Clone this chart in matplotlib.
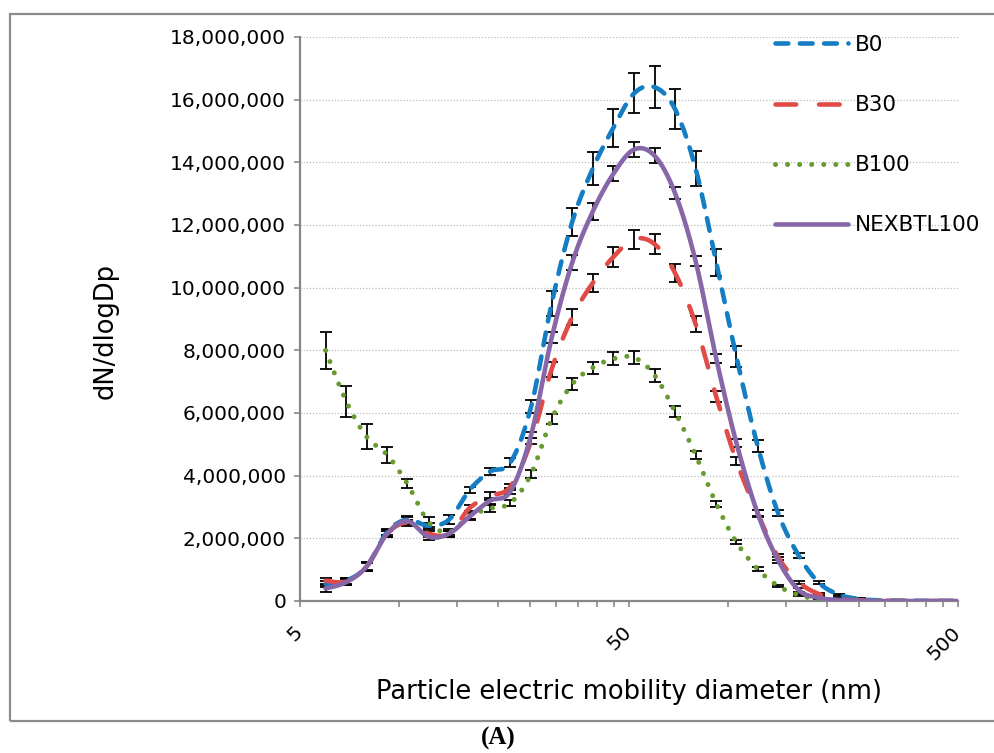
import numpy as np
import matplotlib
matplotlib.use("Agg")
import matplotlib.pyplot as plt
from matplotlib.ticker import FixedLocator, FuncFormatter, NullFormatter
from matplotlib.patches import Rectangle

# ---------------- data (values in particles) ----------------
diameter_nm = [5.98, 6.91, 7.97, 9.21, 10.6, 12.3, 14.2, 16.4, 18.9, 21.8,
               25.2, 29.1, 33.6, 38.8, 44.8, 51.8, 59.8, 69.0, 79.7, 92.1,
               106, 123, 142, 164, 189, 218, 252, 291, 336, 388, 448, 518]

b0 = [0.55, 0.65, 1.1, 2.2, 2.6, 2.4, 2.6, 3.55, 4.13, 4.42,
      6.2, 9.5, 12.1, 13.8, 15.1, 16.2, 16.4, 15.7, 13.8, 10.8,
      7.8, 4.95, 2.8, 1.45, 0.58, 0.2, 0.06, 0.02, 0.01, 0.005, 0.0, 0.0]
b0_err = [0.1, 0.1, 0.12, 0.1, 0.1, 0.1, 0.15, 0.1, 0.12, 0.15,
          0.2, 0.4, 0.45, 0.53, 0.6, 0.64, 0.67, 0.64, 0.55, 0.44,
          0.33, 0.2, 0.1, 0.08, 0.05, 0.03, 0.02, 0.01, 0.01, 0.01, 0.01, 0.01]

b30 = [0.65, 0.62, 1.1, 2.15, 2.5, 2.15, 2.15, 2.97, 3.35, 3.65,
       5.1, 7.4, 9.06, 10.15, 10.98, 11.55, 11.39, 10.47, 8.84, 6.52,
       4.47, 2.8, 1.4, 0.6, 0.22, 0.06, 0.02, 0.01, 0.0, 0.0, 0.0, 0.0]
b30_err = [0.1, 0.1, 0.15, 0.1, 0.1, 0.1, 0.1, 0.1, 0.13, 0.1,
           0.1, 0.24, 0.25, 0.28, 0.31, 0.3, 0.31, 0.29, 0.25, 0.17,
           0.13, 0.1, 0.1, 0.05, 0.03, 0.02, 0.01, 0.01, 0.01, 0.01, 0.01, 0.01]

b100 = [8.0, 6.37, 5.24, 4.66, 3.74, 2.52, 2.2, 2.72, 2.95, 3.13,
        4.05, 5.81, 6.92, 7.45, 7.73, 7.77, 7.21, 6.04, 4.66, 3.10,
        1.88, 1.02, 0.48, 0.19, 0.05, 0.02, 0.01, 0.0, 0.0, 0.0, 0.0, 0.0]
b100_err = [0.6, 0.5, 0.4, 0.25, 0.14, 0.15, 0.1, 0.1, 0.1, 0.1,
            0.13, 0.17, 0.19, 0.19, 0.21, 0.21, 0.21, 0.18, 0.14, 0.1,
            0.07, 0.05, 0.04, 0.03, 0.02, 0.01, 0.01, 0.01, 0.01, 0.01, 0.01, 0.01]

nexbtl100 = [0.4, 0.6, 1.1, 2.15, 2.55, 2.05, 2.15, 2.7, 3.2, 3.5,
             5.3, 8.4, 10.8, 12.43, 13.63, 14.41, 14.21, 13.02, 10.85, 7.73,
             5.05, 2.8, 1.3, 0.35, 0.1, 0.03, 0.01, 0.0, 0.0, 0.0, 0.0, 0.0]
nexbtl100_err = [0.1, 0.1, 0.15, 0.12, 0.12, 0.1, 0.1, 0.1, 0.1, 0.1,
                 0.1, 0.18, 0.23, 0.27, 0.24, 0.25, 0.24, 0.2, 0.17, 0.15,
                 0.13, 0.12, 0.1, 0.05, 0.03, 0.02, 0.01, 0.01, 0.01, 0.01, 0.01, 0.01]

series_names = ["B0", "B30", "B100", "NEXBTL100"]
y_ticks = [0, 2e6, 4e6, 6e6, 8e6, 10e6, 12e6, 14e6, 16e6, 18e6]
x_major = [5, 50, 500]
x_minor = [10, 15, 20, 25, 30, 35, 40, 45, 100, 150, 200, 250, 300, 350, 400, 450]

SCALE = 1e6


def smooth_curve(x, y, n=12):
    """Catmull-Rom smoothing through the data points in log10(x) space
    (same idea as Excel's 'smoothed line')."""
    t = np.log10(np.asarray(x, float))
    v = np.asarray(y, float)
    tp = np.concatenate([[t[0]], t, [t[-1]]])
    vp = np.concatenate([[v[0]], v, [v[-1]]])
    ts, vs = [], []
    s = np.linspace(0, 1, n, endpoint=False)
    for i in range(1, len(tp) - 2):
        for arr, out in ((tp, ts), (vp, vs)):
            p0, p1, p2, p3 = arr[i - 1], arr[i], arr[i + 1], arr[i + 2]
            out.extend(0.5 * (2 * p1 + (-p0 + p2) * s
                              + (2 * p0 - 5 * p1 + 4 * p2 - p3) * s ** 2
                              + (-p0 + 3 * p1 - 3 * p2 + p3) * s ** 3))
    ts.append(t[-1]); vs.append(v[-1])
    return 10 ** np.array(ts), np.array(vs)


# ---------------- figure ----------------
plt.rcParams["font.family"] = ["DejaVu Sans"]
fig = plt.figure(figsize=(9.95, 7.53), dpi=100)
ax = fig.add_axes([300 / 995, 1 - 601 / 753, 658 / 995, 564 / 753])

colors = ["#157DC3", "#E04B47", "#679A2F", "#8767A8"]
lw = 3.3
styles = [
    dict(dashes=(2.8, 2.5), dash_capstyle="round"),
    dict(dashes=(4.5, 5.0), dash_capstyle="round"),
    dict(dashes=(0.01, 2.4), dash_capstyle="round", linewidth=3.6),
    dict(linestyle="-", solid_capstyle="round"),
]
data = [(b0, b0_err), (b30, b30_err), (b100, b100_err), (nexbtl100, nexbtl100_err)]

x = np.asarray(diameter_nm)
for (vals, errs) in data:
    ax.errorbar(x, np.asarray(vals) * SCALE, yerr=np.asarray(errs) * SCALE,
                fmt="none", ecolor="black", elinewidth=1.3, capsize=4,
                capthick=1.3, zorder=2)

for k, ((vals, errs), name) in enumerate(zip(data, series_names)):
    xs, ys = smooth_curve(x, np.asarray(vals) * SCALE)
    kw = dict(color=colors[k], linewidth=lw, label=name, zorder=3 + k)
    kw.update(styles[k])
    ax.plot(xs, ys, **kw)

ax.set_xscale("log")
ax.set_xlim(5, 500)
ax.set_ylim(0, 18e6)

ax.xaxis.set_major_locator(FixedLocator(x_major))
ax.xaxis.set_minor_locator(FixedLocator(x_minor))
ax.xaxis.set_major_formatter(FuncFormatter(lambda v, p: f"{v:g}"))
ax.xaxis.set_minor_formatter(NullFormatter())
ax.yaxis.set_major_locator(FixedLocator(y_ticks))
ax.yaxis.set_major_formatter(FuncFormatter(lambda v, p: f"{int(round(v)):,}"))

for sp in ["top", "right"]:
    ax.spines[sp].set_visible(False)
for sp in ["left", "bottom"]:
    ax.spines[sp].set_color("#878787")
    ax.spines[sp].set_linewidth(1.6)

ax.tick_params(axis="y", which="major", direction="out", length=4.5, width=1.2,
               color="#878787", labelsize=14.5, pad=5.5, labelcolor="black")
ax.tick_params(axis="x", which="both", direction="out", length=4.5, width=1.2,
               color="#878787", labelsize=14.5, pad=16, labelcolor="black")
for lab in ax.get_xticklabels():
    lab.set_rotation(45)
    lab.set_rotation_mode("anchor")
    lab.set_ha("right")
    lab.set_va("center")

ax.yaxis.grid(True, linestyle=(0, (1.0, 1.5)), color="#BDBDBD", linewidth=0.9)
ax.set_axisbelow(True)

ax.set_xlabel("Particle electric mobility diameter (nm)", fontsize=18.5)
ax.xaxis.set_label_coords(0.5, -0.138)
ax.set_ylabel("dN/dlogDp", fontsize=18.5)
ax.yaxis.set_label_coords(-0.275, 0.479)

leg = ax.legend(loc="upper left", bbox_to_anchor=(775 / 995, 1 - 35 / 753),
                bbox_transform=fig.transFigure, frameon=False, fontsize=15.5,
                handlelength=3.4, handletextpad=0.3, labelspacing=1.86,
                borderpad=0, borderaxespad=0)

# outer frame of the chart area
fig.patches.append(Rectangle((10 / 995, 1 - 721 / 753), 1.1, (721 - 14) / 753,
                             transform=fig.transFigure, fill=False,
                             edgecolor="#8C8C8C", linewidth=1.6, zorder=0))

fig.text(498 / 995, 1 - 738 / 753, "(A)", ha="center", va="center",
         fontsize=18, fontweight="bold", family=["Liberation Serif", "DejaVu Serif"])

fig.savefig("out.png", dpi=100)
